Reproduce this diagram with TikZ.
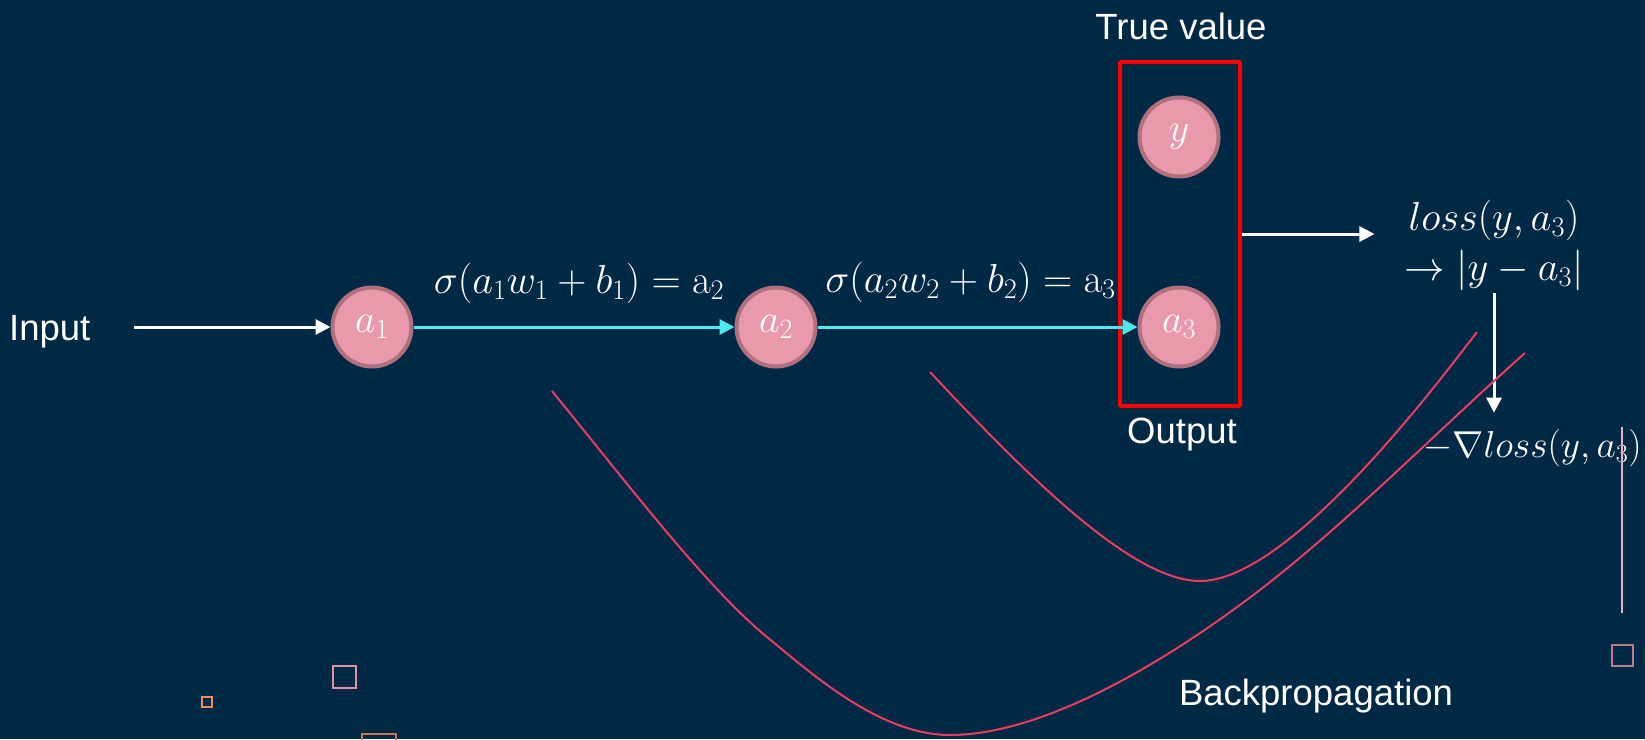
\RequirePackage{fix-cm}
\documentclass[tikz,border=0pt]{standalone}
\usepackage[no-math]{fontspec}
\setmainfont{Liberation Sans}
\usetikzlibrary{arrows.meta}
\definecolor{bgnavy}{RGB}{0,41,69}
\definecolor{nodepink}{RGB}{232,153,171}
\definecolor{nodeedge}{RGB}{176,112,126}
\definecolor{fwdcyan}{RGB}{80,232,240}
\definecolor{curvered}{RGB}{235,60,100}
\definecolor{sqorange}{RGB}{240,140,95}
\definecolor{sqpink}{RGB}{225,145,165}

\begin{document}
\begin{tikzpicture}[x=1pt, y=-1pt,
  every node/.style={text=white, inner sep=0pt},
  txt/.style={font=\fontsize{36.5}{44}\selectfont},
  mth/.style={font=\fontsize{40.5}{48}\selectfont},
  neuron/.style={circle, fill=nodepink, draw=nodeedge, line width=4pt, minimum size=79pt, font=\fontsize{40}{48}\selectfont},
  fwd/.style={-{Triangle[length=15pt,width=15pt]}, fwdcyan, line width=3pt},
  warrow/.style={-{Triangle[length=15pt,width=15pt]}, white, line width=3pt},
  curve/.style={curvered, line width=2pt}]
  % Background
  \fill[bgnavy] (0,0) rectangle (1645,739);
  \useasboundingbox (0,0) rectangle (1645,739);

  % Neurons
  \node[neuron] (a1) at (372,327) {$a_1$};
  \node[neuron] (a2) at (776,327) {$a_2$};
  \node[neuron] (a3) at (1179,327) {$a_3$};
  \node[neuron] (y) at (1179,137) {$y$};
  \node[draw=red, line width=4pt, rounded corners=1pt, minimum width=120pt, minimum height=344pt] (outbox) at (1180,234) {};

  % Labels
  \node[txt, anchor=base] (truelbl) at (1181,39) {True value};
  \node[txt, anchor=base] (outlbl) at (1182,443) {Output};
  \node[txt, anchor=base west] (input) at (9,340) {Input};
  \node[txt, anchor=base] (backlbl) at (1316,705) {Backpropagation};
  \node[mth, anchor=base] (loss) at (1494,230) {$loss(y,a_3)$};
  \node[mth, anchor=base] (lossabs) at (1494,280) {$\rightarrow|y-a_3|$};
  \node[mth, font=\fontsize{37.5}{44}\selectfont, anchor=base west] (grad) at (1423,457) {$-\nabla loss(y,a_3)$};

  % Forward pass
  \draw[warrow, shorten <=43pt] (input.east |- a1) -- (a1);
  \draw[fwd] (a1) -- (a2) node[mth, midway, anchor=base, yshift=34pt, xshift=5pt] {$\sigma(a_1w_1+b_1)=\mathrm{a}_2$};
  \draw[fwd] (a2) -- (a3) node[mth, midway, anchor=base, yshift=35pt, xshift=-7pt] {$\sigma(a_2w_2+b_2)=\mathrm{a}_3$};

  % Loss
  \draw[warrow, shorten >=34pt] (outbox.east) -- (outbox.east -| loss.west);
  \draw[warrow, shorten <=3pt, shorten >=16pt] (lossabs.south) -- (lossabs.south |- grad.north);

  % Gradient descent curves
  \draw[curve] (552,391) .. controls (627,483) and (707,588) .. (767,637)
    .. controls (812,674) and (880,735) .. (950,735)
    .. controls (1040,735) and (1153,668) .. (1233,610)
    .. controls (1333,538) and (1425,442) .. (1525,353);
  \draw[curve] (930,372) .. controls (1020,468) and (1130,581) .. (1200,581)
    .. controls (1290,581) and (1440,380) .. (1477,332);

  % Decorations
  \draw[sqpink!70!white, line width=1.2pt] (1622,427) -- (1622,613);
  \draw[sqpink!85!black, line width=1.5pt] (1612,645) rectangle (1633,666);
  \draw[sqorange, line width=2pt] (202,697) rectangle (212,707);
  \draw[sqpink, line width=2pt] (333,666) rectangle (356,688);
  \draw[sqorange!85!black, line width=2pt] (362,734) rectangle (396,750);
\end{tikzpicture}
\end{document}
